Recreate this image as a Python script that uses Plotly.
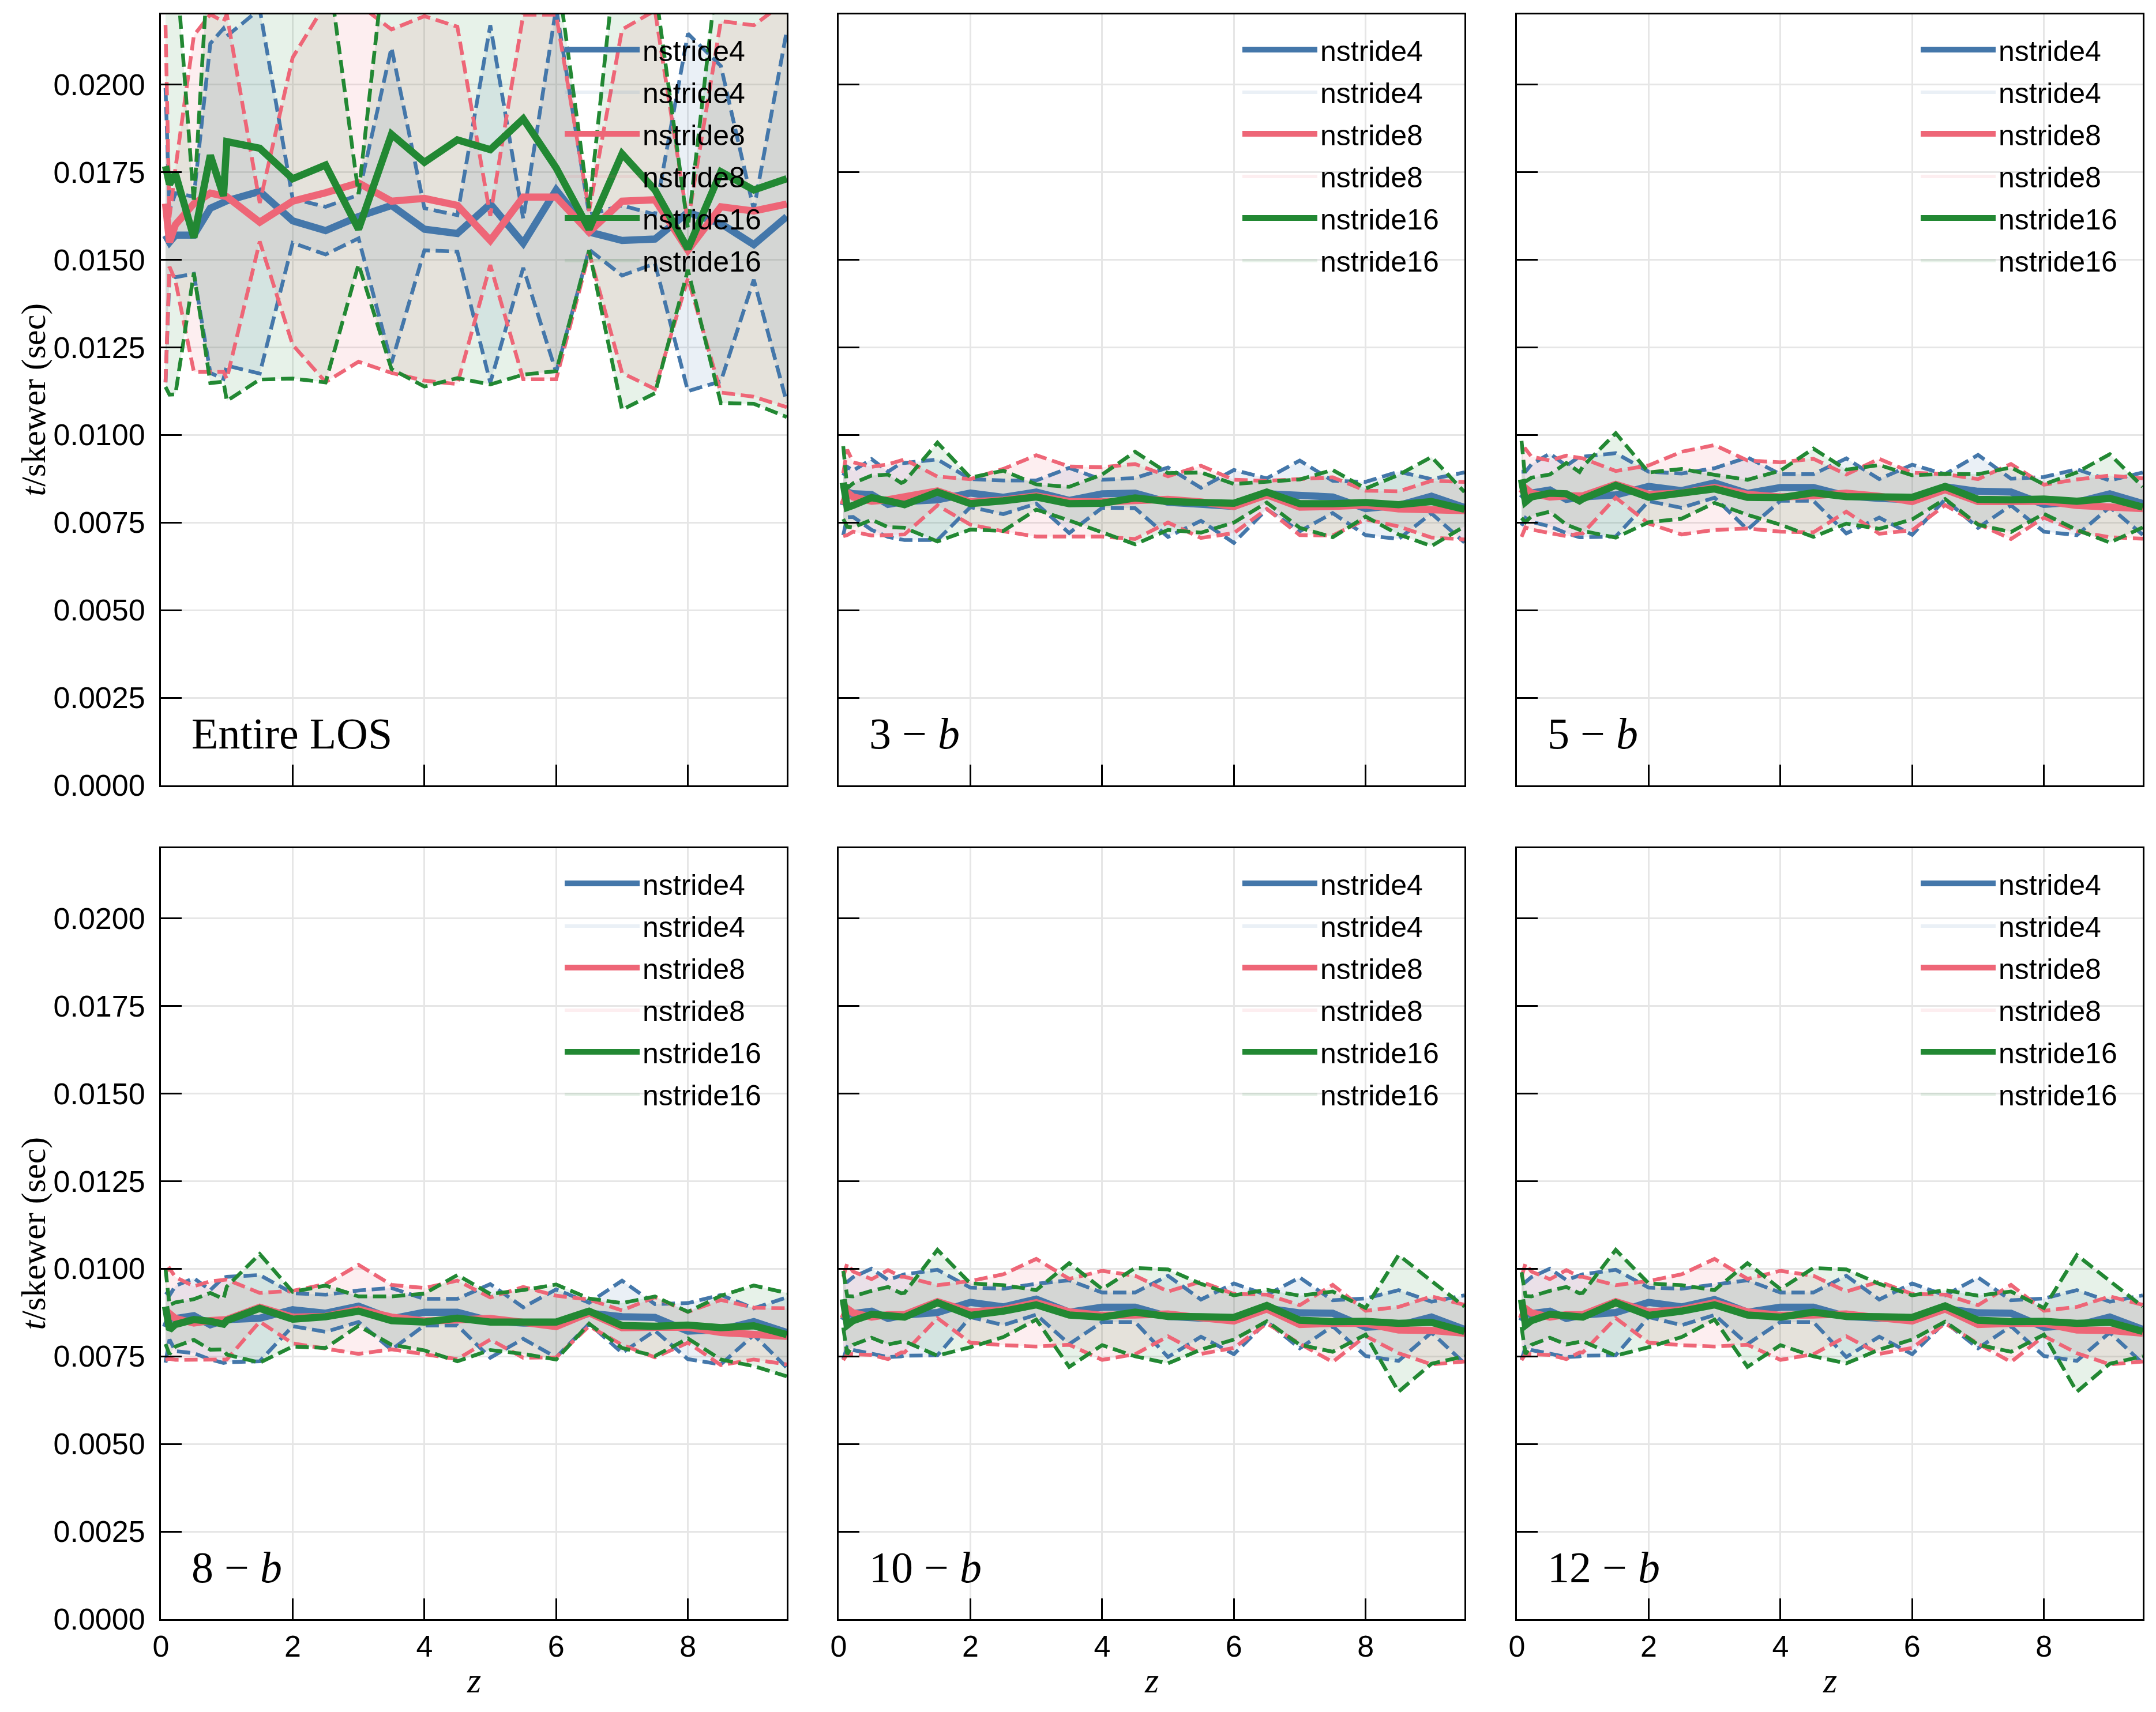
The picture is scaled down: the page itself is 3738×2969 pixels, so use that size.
import plotly.graph_objects as go

# ---------------- data ----------------
z = [0.07, 0.13, 0.22, 0.5, 0.75, 0.95, 1.0, 1.5, 2.0, 2.5, 3.0, 3.5, 4.0, 4.5,
     5.0, 5.5, 6.0, 6.5, 7.0, 7.5, 8.0, 8.5, 9.0, 9.5]

series_names = ["nstride4", "nstride8", "nstride16"]
panel_labels = ["Entire LOS", "3 − <i>b</i>", "5 − <i>b</i>", "8 − <i>b</i>", "10 − <i>b</i>", "12 − <i>b</i>"]
x_ticks = [0, 2, 4, 6, 8]
y_ticks = [0.0, 0.0025, 0.005, 0.0075, 0.01, 0.0125, 0.015, 0.0175, 0.02]
x_title = "<i>z</i>"
y_title = "<i>t</i>/skewer (sec)"

# Entire LOS
los_mean4 = [0.0157, 0.0155, 0.0157, 0.0157, 0.01647, 0.0166, 0.01668, 0.01695, 0.01611, 0.01583, 0.01623, 0.01655,
             0.01587, 0.01575, 0.01659, 0.01547, 0.01699, 0.01579, 0.01555, 0.01559, 0.01635, 0.01603, 0.01543, 0.01623]
los_sd4 = [0.0042, 0.0009, 0.0012, 0.0011, 0.0047, 0.005, 0.0047, 0.0052, 0.00063, 0.00068, 0.00062, 0.0045,
           0.0006, 0.00052, 0.0051, 0.0007, 0.0052, 0.0005, 0.001, 0.0007, 0.0051, 0.0045, 0.001, 0.0053]
los_mean8 = [0.0166, 0.0155, 0.016, 0.0166, 0.0169, 0.0168, 0.0168, 0.01607, 0.01667, 0.01691, 0.01719, 0.01667,
             0.01675, 0.01655, 0.01555, 0.01679, 0.01679, 0.01579, 0.01667, 0.01671, 0.01527, 0.01651, 0.01639, 0.01659]
los_sd8 = [0.0051, 0.0007, 0.0016, 0.0048, 0.0051, 0.005, 0.0052, 0.00055, 0.0041, 0.0054, 0.0051, 0.0049,
           0.0052, 0.0051, 0.0007, 0.0052, 0.0052, 0.0006, 0.0049, 0.0054, 0.0008, 0.0053, 0.0053, 0.0058]
los_mean16 = [0.01767, 0.01715, 0.01746, 0.01563, 0.01798, 0.01682, 0.01837, 0.01818, 0.01731, 0.0177, 0.01587, 0.01858,
              0.01778, 0.01842, 0.01814, 0.01902, 0.01762, 0.01587, 0.01802, 0.01699, 0.01531, 0.01751, 0.01699, 0.01731]
los_sd16 = [0.0063, 0.006, 0.0063, 0.001, 0.0065, 0.0053, 0.0074, 0.0066, 0.0057, 0.0062, 0.001, 0.0067,
            0.0064, 0.0068, 0.0067, 0.0073, 0.0058, 0.0006, 0.0073, 0.0058, 0.0006, 0.0066, 0.0061, 0.0068]

# 3-b
b3_mean4 = [0.00799, 0.00837, 0.00832, 0.00830, 0.00802, 0.00810, 0.00810, 0.00815, 0.00834, 0.00822, 0.00837, 0.00813,
            0.00832, 0.00834, 0.00808, 0.00802, 0.00796, 0.00832, 0.00826, 0.00823, 0.00790, 0.00799, 0.00825, 0.00793]
b3_sd4 = [0.00085, 0.00072, 0.00066, 0.00101, 0.00093, 0.0011, 0.0011, 0.00115, 0.0004, 0.00048, 0.00033, 0.00093,
          0.0004, 0.00043, 0.00099, 0.00047, 0.00104, 0.00044, 0.00101, 0.00046, 0.00076, 0.00096, 0.00049, 0.001]
b3_mean8 = [0.00801, 0.00836, 0.00823, 0.00811, 0.00815, 0.00822, 0.00823, 0.00840, 0.00809, 0.00814, 0.00826, 0.00810,
            0.00809, 0.00810, 0.00816, 0.00809, 0.00796, 0.00829, 0.00794, 0.00796, 0.00800, 0.00789, 0.00788, 0.00784]
b3_sd8 = [0.0009, 0.00122, 0.00099, 0.00098, 0.00101, 0.00107, 0.00107, 0.00041, 0.00065, 0.00089, 0.00116, 0.001,
          0.00099, 0.00107, 0.00066, 0.00103, 0.00076, 0.0004, 0.0008, 0.00083, 0.00041, 0.0005, 0.00081, 0.00082]
b3_mean16 = [0.00864, 0.00793, 0.00799, 0.00821, 0.00812, 0.00799, 0.00801, 0.00837, 0.00804, 0.00812, 0.00823, 0.00804,
             0.00805, 0.00820, 0.00810, 0.00807, 0.00805, 0.00837, 0.00804, 0.00804, 0.00807, 0.00801, 0.00810, 0.00788]
b3_sd16 = [0.00104, 0.00055, 0.00063, 0.00063, 0.00075, 0.00064, 0.00066, 0.00141, 0.00074, 0.00086, 0.00036, 0.00048,
           0.00082, 0.00132, 0.00081, 0.00086, 0.00055, 0.0003, 0.00069, 0.00096, 0.0004, 0.00085, 0.00127, 0.00049]

# 5-b
b5_mean4 = [0.00818, 0.00829, 0.00834, 0.00843, 0.00816, 0.00823, 0.00823, 0.00829, 0.00853, 0.00841, 0.00863, 0.00833,
            0.00850, 0.00850, 0.00826, 0.00819, 0.00815, 0.00852, 0.00839, 0.00837, 0.00802, 0.00808, 0.00832, 0.00804]
b5_sd4 = [0.00077, 0.00066, 0.00082, 0.00104, 0.00096, 0.00115, 0.00115, 0.00119, 0.00042, 0.00049, 0.00042, 0.00103,
          0.00038, 0.00038, 0.00107, 0.00055, 0.001, 0.00036, 0.00104, 0.00038, 0.00078, 0.00094, 0.00038, 0.00089]
b5_mean8 = [0.00832, 0.00848, 0.00834, 0.00823, 0.00826, 0.00826, 0.00826, 0.00859, 0.00830, 0.00834, 0.00850, 0.00830,
            0.00823, 0.00827, 0.00834, 0.00825, 0.00810, 0.00844, 0.00810, 0.00810, 0.00811, 0.00799, 0.00796, 0.00790]
b5_sd8 = [0.00123, 0.00112, 0.00104, 0.00104, 0.00115, 0.00107, 0.00107, 0.00038, 0.00083, 0.00118, 0.00121, 0.00097,
          0.00099, 0.00105, 0.00053, 0.00107, 0.00082, 0.00044, 0.00064, 0.00107, 0.00047, 0.00074, 0.00088, 0.00086]
b5_mean16 = [0.00873, 0.00809, 0.00823, 0.00834, 0.00832, 0.00812, 0.00818, 0.00856, 0.00822, 0.00832, 0.00846, 0.00822,
             0.00821, 0.00835, 0.00824, 0.00823, 0.00822, 0.00853, 0.00816, 0.00815, 0.00817, 0.00811, 0.00819, 0.00794]
b5_sd16 = [0.0011, 0.00058, 0.00055, 0.00053, 0.00088, 0.00082, 0.00092, 0.00149, 0.00071, 0.00071, 0.0004, 0.0005,
           0.00077, 0.00126, 0.00077, 0.00091, 0.00063, 0.00036, 0.00072, 0.00092, 0.00042, 0.00082, 0.00126, 0.00058]

# 8-b
b8_mean4 = [0.00833, 0.00861, 0.00858, 0.00866, 0.00840, 0.00853, 0.00855, 0.00859, 0.00883, 0.00873, 0.00893, 0.00857,
            0.00876, 0.00876, 0.00851, 0.00845, 0.00844, 0.00873, 0.00863, 0.00861, 0.00822, 0.00826, 0.00849, 0.00818]
b8_sd4 = [0.00101, 0.00063, 0.00093, 0.00107, 0.00099, 0.00122, 0.00122, 0.00123, 0.00047, 0.00053, 0.00045, 0.00088,
          0.00038, 0.00038, 0.00105, 0.00045, 0.00097, 0.0003, 0.00103, 0.00038, 0.0008, 0.00099, 0.00038, 0.001]
b8_mean8 = [0.00866, 0.00872, 0.00858, 0.00845, 0.00852, 0.00855, 0.00855, 0.0089, 0.00862, 0.00864, 0.00884, 0.00862,
            0.00851, 0.00854, 0.00858, 0.00847, 0.00835, 0.00874, 0.00832, 0.00833, 0.00833, 0.00818, 0.00815, 0.00807]
b8_sd8 = [0.00126, 0.00129, 0.00118, 0.00105, 0.00112, 0.00114, 0.00114, 0.00041, 0.00075, 0.00092, 0.00127, 0.00092,
          0.00094, 0.00112, 0.0006, 0.00101, 0.00088, 0.00038, 0.00049, 0.00086, 0.00044, 0.00093, 0.00074, 0.0008]
b8_mean16 = [0.00892, 0.00826, 0.00841, 0.00855, 0.0085, 0.00842, 0.00852, 0.00887, 0.00856, 0.00863, 0.00879, 0.00852,
             0.00848, 0.00859, 0.00848, 0.00848, 0.00848, 0.00879, 0.00838, 0.00836, 0.00839, 0.00832, 0.00837, 0.00812]
b8_sd16 = [0.00107, 0.0007, 0.00063, 0.00058, 0.00081, 0.00072, 0.00097, 0.00155, 0.00078, 0.00089, 0.00042, 0.00069,
           0.00081, 0.00123, 0.0008, 0.00091, 0.00107, 0.00036, 0.00064, 0.00085, 0.00038, 0.00091, 0.00115, 0.00119]

# 10-b
b10_mean4 = [0.00852, 0.00869, 0.00872, 0.00879, 0.00858, 0.00866, 0.00868, 0.00875, 0.00904, 0.00891, 0.00913, 0.00876,
             0.0089, 0.0089, 0.00864, 0.00859, 0.00857, 0.00887, 0.00874, 0.00873, 0.00833, 0.00838, 0.00862, 0.00827]
b10_sd4 = [0.0011, 0.00093, 0.00104, 0.00121, 0.0011, 0.00116, 0.00116, 0.00122, 0.00042, 0.00052, 0.00044, 0.00091,
           0.00042, 0.00042, 0.00116, 0.00053, 0.00101, 0.00038, 0.00101, 0.00037, 0.00082, 0.00101, 0.00044, 0.00097]
b10_mean8 = [0.00858, 0.00886, 0.00874, 0.00862, 0.00869, 0.00869, 0.00869, 0.00906, 0.00877, 0.00883, 0.00903, 0.00877,
             0.00867, 0.00868, 0.00871, 0.0086, 0.00851, 0.00885, 0.00841, 0.00844, 0.00844, 0.00825, 0.00824, 0.00816]
b10_sd8 = [0.00119, 0.00129, 0.00118, 0.00108, 0.00127, 0.00108, 0.00108, 0.00047, 0.00088, 0.00101, 0.00125, 0.00094,
           0.00127, 0.00112, 0.00064, 0.00103, 0.00077, 0.00041, 0.00055, 0.0011, 0.00036, 0.00066, 0.00097, 0.00081]
b10_mean16 = [0.00913, 0.00839, 0.00852, 0.0087, 0.00866, 0.00861, 0.00862, 0.00903, 0.00867, 0.00879, 0.00897, 0.00868,
              0.00862, 0.00876, 0.00864, 0.00863, 0.00861, 0.00895, 0.00853, 0.00849, 0.0085, 0.00844, 0.00847, 0.00821]
b10_sd16 = [0.00081, 0.00083, 0.00069, 0.00067, 0.00082, 0.00069, 0.00069, 0.00151, 0.00091, 0.00074, 0.00042, 0.00148,
            0.0008, 0.00126, 0.00134, 0.00094, 0.00063, 0.00045, 0.0007, 0.00086, 0.00038, 0.00195, 0.00118, 0.00071]

# 12-b
b12_mean4 = [0.00850, 0.00869, 0.00872, 0.00879, 0.00858, 0.00866, 0.00868, 0.00875, 0.00904, 0.00891, 0.00912, 0.00876,
             0.0089, 0.0089, 0.00864, 0.00859, 0.00857, 0.00886, 0.00874, 0.00873, 0.00833, 0.00838, 0.00862, 0.00827]
b12_sd4 = [0.0011, 0.00093, 0.00104, 0.00121, 0.0011, 0.00116, 0.00116, 0.00122, 0.00042, 0.00052, 0.00044, 0.00091,
           0.00042, 0.00042, 0.00116, 0.00053, 0.00101, 0.00038, 0.00101, 0.00037, 0.00082, 0.00101, 0.00044, 0.00097]
b12_mean8 = [0.00858, 0.00886, 0.00874, 0.00862, 0.00869, 0.00869, 0.00869, 0.00906, 0.00877, 0.00883, 0.00903, 0.00877,
             0.00867, 0.00868, 0.00871, 0.0086, 0.00851, 0.00885, 0.00841, 0.00844, 0.00844, 0.00825, 0.00824, 0.00816]
b12_sd8 = [0.00119, 0.00129, 0.00118, 0.00108, 0.00127, 0.00108, 0.00108, 0.00047, 0.00088, 0.00101, 0.00125, 0.00094,
           0.00127, 0.00112, 0.00064, 0.00103, 0.00077, 0.00041, 0.00055, 0.0011, 0.00036, 0.00066, 0.00097, 0.00081]
b12_mean16 = [0.00912, 0.00839, 0.00852, 0.0087, 0.00866, 0.00861, 0.00862, 0.00903, 0.00867, 0.00879, 0.00897, 0.00868,
              0.00862, 0.00876, 0.00864, 0.00863, 0.00861, 0.00894, 0.00853, 0.00849, 0.0085, 0.00844, 0.00847, 0.00821]
b12_sd16 = [0.00078, 0.00083, 0.00069, 0.00067, 0.00082, 0.00069, 0.00069, 0.00151, 0.00091, 0.00074, 0.00042, 0.00148,
            0.0008, 0.00126, 0.00134, 0.00094, 0.00063, 0.00045, 0.0007, 0.00086, 0.00038, 0.00195, 0.00118, 0.00071]

panels = [
    ((los_mean4, los_sd4), (los_mean8, los_sd8), (los_mean16, los_sd16)),
    ((b3_mean4, b3_sd4), (b3_mean8, b3_sd8), (b3_mean16, b3_sd16)),
    ((b5_mean4, b5_sd4), (b5_mean8, b5_sd8), (b5_mean16, b5_sd16)),
    ((b8_mean4, b8_sd4), (b8_mean8, b8_sd8), (b8_mean16, b8_sd16)),
    ((b10_mean4, b10_sd4), (b10_mean8, b10_sd8), (b10_mean16, b10_sd16)),
    ((b12_mean4, b12_sd4), (b12_mean8, b12_sd8), (b12_mean16, b12_sd16)),
]

# ---------------- style ----------------
W, H = 3738, 2969
line_colors = ["#4477AA", "#EE6677", "#228833"]
fill_colors = ["rgba(68,119,170,0.11)", "rgba(238,102,119,0.11)", "rgba(34,136,51,0.11)"]
col_px = [(279, 1364), (1454, 2539), (2630, 3715)]
row_px = [(25, 1362), (1471, 2808)]
SANS = "Liberation Sans"
SERIF = "Liberation Serif"

fig = go.Figure()

for p, panel in enumerate(panels):
    sfx = "" if p == 0 else str(p + 1)
    xa, ya, lg = "x" + sfx, "y" + sfx, "legend" + sfx
    # shaded bands first (below all lines)
    for s, (mean, sd) in enumerate(panel):
        lo = [m - d for m, d in zip(mean, sd)]
        hi = [m + d for m, d in zip(mean, sd)]
        fig.add_trace(go.Scatter(x=z, y=lo, xaxis=xa, yaxis=ya, mode="lines",
                                 line=dict(width=0, color=fill_colors[s]),
                                 showlegend=False, hoverinfo="skip"))
        fig.add_trace(go.Scatter(x=z, y=hi, xaxis=xa, yaxis=ya, mode="lines",
                                 line=dict(width=0, color=fill_colors[s]),
                                 fill="tonexty", fillcolor=fill_colors[s],
                                 name=series_names[s], legend=lg,
                                 legendgroup=f"p{p}f{s}", legendrank=2 * s + 2,
                                 showlegend=True, hoverinfo="skip"))
    # dashed bounds and mean lines
    for s, (mean, sd) in enumerate(panel):
        lo = [m - d for m, d in zip(mean, sd)]
        hi = [m + d for m, d in zip(mean, sd)]
        for bound in (hi, lo):
            fig.add_trace(go.Scatter(x=z, y=bound, xaxis=xa, yaxis=ya, mode="lines",
                                     line=dict(width=6.5, color=line_colors[s], dash="23px,10px"),
                                     showlegend=False, hoverinfo="skip"))
        fig.add_trace(go.Scatter(x=z, y=mean, xaxis=xa, yaxis=ya, mode="lines",
                                 line=dict(width=12.5, color=line_colors[s]),
                                 name=series_names[s], legend=lg,
                                 legendgroup=f"p{p}l{s}", legendrank=2 * s + 1,
                                 showlegend=True))

layout = dict(
    width=W, height=H,
    margin=dict(l=0, r=0, t=0, b=0),
    paper_bgcolor="white", plot_bgcolor="white",
    font=dict(family=SANS, size=52, color="black"),
    showlegend=True,
)

annotations = []
for p in range(6):
    r, c = divmod(p, 3)
    sfx = "" if p == 0 else str(p + 1)
    x0, x1 = col_px[c]
    t0, b0 = row_px[r]
    xdom = [x0 / W, x1 / W]
    ydom = [1 - b0 / H, 1 - t0 / H]
    xaxis = dict(domain=xdom, anchor="y" + sfx, range=[0, 9.5], tickvals=x_ticks,
                 ticks="inside", ticklen=36, tickwidth=2.5, tickcolor="black",
                 showline=True, linecolor="black", linewidth=3, mirror=True,
                 showgrid=True, gridcolor="#e6e6e6", gridwidth=2.5, zeroline=False,
                 showticklabels=(r == 1), ticklabelstandoff=0, automargin=False,
                 tickfont=dict(family=SANS, size=52))
    yaxis = dict(domain=ydom, anchor="x" + sfx, range=[0, 0.022], tickvals=y_ticks,
                 tickformat=".4f",
                 ticks="inside", ticklen=36, tickwidth=2.5, tickcolor="black",
                 showline=True, linecolor="black", linewidth=3, mirror=True,
                 showgrid=True, gridcolor="#e6e6e6", gridwidth=2.5, zeroline=False,
                 showticklabels=(c == 0), ticklabelstandoff=14, automargin=False,
                 tickfont=dict(family=SANS, size=52))
    layout["xaxis" + sfx] = xaxis
    layout["yaxis" + sfx] = yaxis
    layout["legend" + sfx] = dict(
        x=(x0 + 695) / W, xanchor="left",
        y=1 - (t0 + 22) / H, yanchor="top",
        bgcolor="rgba(0,0,0,0)", borderwidth=0,
        font=dict(family=SANS, size=50, color="black"),
        itemwidth=130, tracegroupgap=5, traceorder="grouped",
    )
    annotations.append(dict(
        text=panel_labels[p], xref=f"x{sfx} domain", yref=f"y{sfx} domain",
        x=0.047, y=0.0675, xanchor="left", yanchor="middle", showarrow=False,
        font=dict(family=SERIF, size=76, color="black"),
    ))
    if r == 1:
        annotations.append(dict(
            text=x_title, xref="paper", yref="paper",
            x=(x0 + x1) / 2 / W, y=1 - 2914 / H, xanchor="center", yanchor="middle",
            showarrow=False, font=dict(family=SERIF, size=62, color="black"),
        ))
    if c == 0:
        annotations.append(dict(
            text=y_title, xref="paper", yref="paper", textangle=-90,
            x=57 / W, y=1 - (t0 + b0) / 2 / H, xanchor="center", yanchor="middle",
            showarrow=False, font=dict(family=SERIF, size=60, color="black"),
        ))
layout["annotations"] = annotations

fig.update_layout(**layout)
fig.write_html("out.html")
